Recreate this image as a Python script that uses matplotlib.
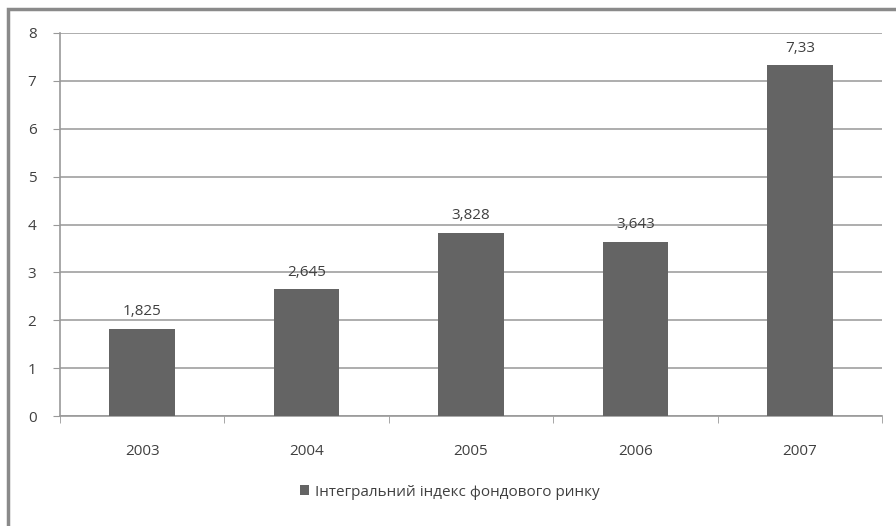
import matplotlib.pyplot as plt
import numpy as np
from matplotlib.patches import Rectangle

# дані
roky = ['2003', '2004', '2005', '2006', '2007']
indeks = [1.825, 2.645, 3.828, 3.643, 7.33]
pidpysy = ['1,825', '2,645', '3,828', '3,643', '7,33']
nazva = 'Інтегральний індекс фондового ринку'

plt.rcParams['font.family'] = ['Open Sans', 'DejaVu Sans']

fig = plt.figure(figsize=(8.96, 5.26), dpi=100)
ax = fig.add_axes([60/896, 1 - 416/526, 822/896, 383/526])

# рамка навколо діаграми (праворуч і знизу обрізана)
fig.patches.append(Rectangle((8/896, -0.05), 1.0, 1.05 - 9/526, transform=fig.transFigure,
                             fill=False, edgecolor='#8a8a8a', linewidth=2.5))

x = np.arange(len(roky))
bary = ax.bar(x, indeks, width=0.4, color='#646464', label=nazva, zorder=3)
for b, t in zip(bary, pidpysy):
    ax.text(b.get_x() + b.get_width()/2, b.get_height() + 0.2, t,
            ha='center', va='bottom', fontsize=11, color='#404040')

ax.set_xlim(-0.5, len(roky) - 0.5)
ax.set_ylim(0, 8)
ax.set_yticks(range(0, 9))
ax.set_xticks(x)
ax.set_xticklabels(roky)
ax.set_xticks(np.arange(-0.5, len(roky), 1), minor=True)
ax.tick_params(axis='x', which='major', length=0, pad=20, labelsize=11, labelcolor='#404040')
ax.tick_params(axis='x', which='minor', length=5, color='#999999')
ax.tick_params(axis='y', length=5, color='#999999', labelsize=11, labelcolor='#404040', pad=12)
ax.grid(axis='y', color='#a0a0a0', linewidth=1.2, zorder=0)

for s in ['top', 'right']:
    ax.spines[s].set_visible(False)
ax.spines['left'].set_color('#999999')
ax.spines['bottom'].set_color('#999999')
ax.spines['left'].set_linewidth(1.2)
ax.spines['bottom'].set_linewidth(1.2)

fig.legend(loc='center', bbox_to_anchor=(450/896, 1 - 492/526), frameon=False,
           fontsize=11, handlelength=0.6, handleheight=0.6, handletextpad=0.4,
           labelcolor='#404040')

plt.savefig('out.png', dpi=100)
